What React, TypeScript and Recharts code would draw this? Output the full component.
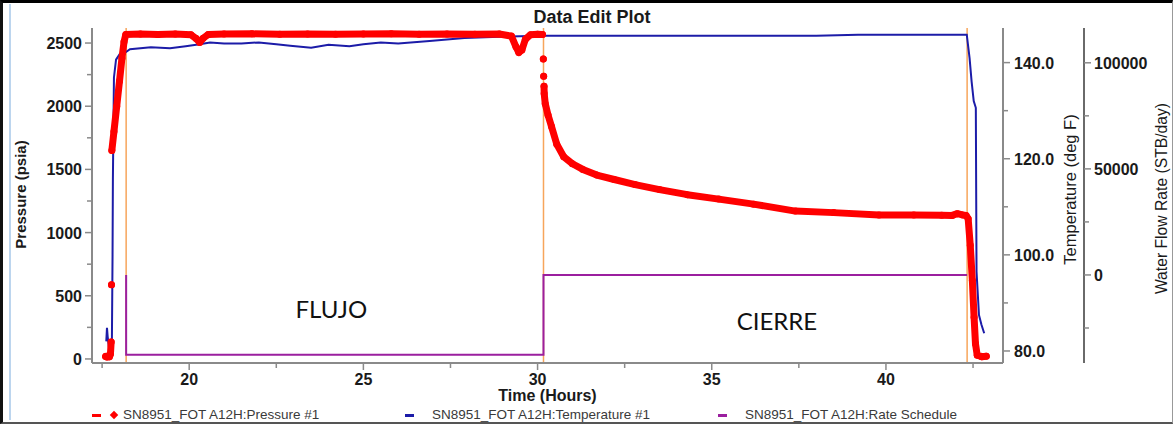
import {
  ComposedChart,
  Legend,
  Line,
  ReferenceDot,
  ReferenceLine,
  XAxis,
  YAxis,
} from "recharts";

// gauge #1 pressure, psia (null = gap between isolated samples)
const pressureHours = [
  17.6, 17.64, 17.68, 17.71, 17.74, 17.76, 17.765, 17.77, 17.775, 17.78, 17.84,
  17.92, 18.0, 18.07, 18.13, 18.18, 18.6, 19.1, 19.6, 20.05, 20.2, 20.3, 20.4,
  20.55, 21.0, 21.8, 22.6, 23.4, 24.2, 25.0, 25.8, 26.6, 27.4, 28.2, 28.9,
  29.25, 29.38, 29.46, 29.55, 29.65, 29.8, 30.0, 30.14, 30.155, 30.165, 30.17,
  30.175, 30.18, 30.185, 30.19, 30.22, 30.3, 30.4, 30.55, 30.75, 31.0, 31.3,
  31.7, 32.2, 32.8, 33.5, 34.3, 35.2, 36.2, 37.4, 38.5, 39.8, 40.8, 41.6, 41.9,
  42.05, 42.2, 42.3, 42.36, 42.42, 42.48, 42.53, 42.57, 42.62, 42.75, 42.88,
];
const pressurePsia = [
  20, 15, 25, 18, 40, 135, null, 587, null, 1650, 1800, 2000, 2200, 2380, 2510,
  2568, 2572, 2568, 2571, 2566, 2535, 2505, 2538, 2568, 2571, 2573, 2569, 2572,
  2570, 2571, 2573, 2569, 2572, 2570, 2571, 2555, 2470, 2425, 2445, 2530, 2566,
  2570, 2568, null, 2373, null, 2238, null, 2159, 2100, 2020, 1930, 1840, 1700,
  1600, 1545, 1500, 1455, 1420, 1380, 1340, 1300, 1265, 1225, 1170, 1158, 1140,
  1140, 1137, 1136, 1150, 1140, 1135, 1110, 900, 620, 330, 120, 30, 18, 22,
];

// gauge #1 temperature, deg F
const temperatureHours = [
  17.62, 17.64, 17.66, 17.7, 17.74, 17.78, 17.8, 17.81, 17.84, 17.9, 18.0,
  18.16, 18.3, 18.9, 19.45, 19.9, 20.3, 20.6, 21.0, 21.5, 22.0, 22.5, 22.9,
  23.5, 24.0, 24.6, 25.0, 25.5, 26.0, 26.9, 27.9, 28.9, 29.5, 30.1, 32, 35, 38,
  39.2, 42.32, 42.4, 42.46, 42.52, 42.58, 42.6, 42.67, 42.74, 42.82,
];
const temperatureDegF = [
  82, 84.8, 83, 80.5, 79.5, 81, 100, 116, 136.9, 140.6, 141.7, 142.1, 142.8,
  143.2, 143.0, 143.4, 143.8, 144.2, 144.0, 144.0, 144.2, 143.8, 143.5, 143.1,
  143.7, 143.4, 143.8, 144.2, 144.0, 144.5, 145.1, 145.4, 145.5, 145.6, 145.6,
  145.6, 145.6, 145.8, 145.8, 141, 136, 132, 130.6, 96.5, 87.5, 85.5, 83.7,
];

// rate schedule, STB/day
const rateHours = [18.19, 18.19, 30.17, 30.17, 42.33];
const rateStbDay = [0, -37600, -37600, 0, 0];

const eventHours = [18.19, 30.17, 42.33];

const timeTicks = [17.5, 20, 22.5, 25, 27.5, 30, 32.5, 35, 37.5, 40, 42.5];
const pressureTicks = [0, 250, 500, 750, 1000, 1250, 1500, 1750, 2000, 2250, 2500];
const temperatureTicks = [80, 90, 100, 110, 120, 130, 140];
const rateTicks = [-25000, 0, 25000, 50000, 75000, 100000];

const periodNames = ["FLUJO", "CIERRE"];
const periodHours = [24.08, 36.87];
const periodPsia = [390, 295];

const seriesNames = [
  "SN8951_FOT A12H:Pressure #1",
  "SN8951_FOT A12H:Temperature #1",
  "SN8951_FOT A12H:Rate Schedule",
];

const pressureData = pressureHours.map((t, i) => ({ t, p: pressurePsia[i] }));
const temperatureData = temperatureHours.map((t, i) => ({ t, temp: temperatureDegF[i] }));
const rateData = rateHours.map((t, i) => ({ t, rate: rateStbDay[i] }));

const FONT = "'Liberation Sans', Arial, sans-serif";
const RED = "#ff0000";
const BLUE = "#1c1ca8";
const PURPLE = "#9b1f9f";
const ORANGE = "#f7a55b";
const AXIS = "#8a8a8a";
const SERIES_COLORS = [RED, BLUE, PURPLE];
const LEGEND_X = [92, 405, 718];

const tickText = { fontFamily: FONT, fontSize: 16, fontWeight: 700, fill: "#1a1a1a" };

function TimeTick({ x, y, payload }: any) {
  const major = payload.value % 5 === 0;
  return (
    <g>
      <line x1={x} x2={x} y1={y} y2={y + (major ? 7 : 5)} stroke={AXIS} strokeWidth={1.5} />
      {major ? (
        <text x={x} y={y + 22} textAnchor="middle" {...tickText}>
          {payload.value}
        </text>
      ) : null}
    </g>
  );
}

function PressureTick({ x, y, payload }: any) {
  const major = payload.value % 500 === 0;
  return (
    <g>
      <line x1={x - (major ? 7 : 5)} x2={x} y1={y} y2={y} stroke={AXIS} strokeWidth={1.5} />
      {major ? (
        <text x={x - 10} y={y + 6} textAnchor="end" {...tickText}>
          {payload.value}
        </text>
      ) : null}
    </g>
  );
}

function TemperatureTick({ x, y, payload }: any) {
  const major = payload.value % 20 === 0;
  return (
    <g>
      <line x1={x} x2={x + (major ? 7 : 5)} y1={y} y2={y} stroke={AXIS} strokeWidth={1.5} />
      {major ? (
        <text x={x + 11} y={y + 6} textAnchor="start" {...tickText}>
          {payload.value.toFixed(1)}
        </text>
      ) : null}
    </g>
  );
}

function RateTick({ x, y, payload }: any) {
  const major = payload.value % 50000 === 0;
  return (
    <g>
      <line x1={x} x2={x + (major ? 7 : 5)} y1={y} y2={y} stroke={AXIS} strokeWidth={1.5} />
      {major ? (
        <text x={x + 10} y={y + 6} textAnchor="start" {...tickText}>
          {payload.value}
        </text>
      ) : null}
    </g>
  );
}

function VerticalTitle({ viewBox, value, at, shift = 0, weight = 700, size = 15 }: any) {
  const x = viewBox.x + at;
  const y = viewBox.y + viewBox.height / 2 + shift;
  return (
    <text
      x={x}
      y={y}
      transform={`rotate(-90 ${x} ${y})`}
      textAnchor="middle"
      dominantBaseline="central"
      fontFamily={FONT}
      fontSize={size}
      fontWeight={weight}
      fill="#1a1a1a"
    >
      {value}
    </text>
  );
}

function LegendRow() {
  return (
    <div style={{ position: "relative", height: 20, width: 1173, fontFamily: FONT }}>
      {seriesNames.map((name, i) => (
        <div
          key={name}
          style={{
            position: "absolute",
            left: LEGEND_X[i],
            top: 3,
            height: 16,
            lineHeight: "16px",
            display: "flex",
            alignItems: "center",
            fontSize: 13.5,
            color: "#3a3a3a",
            whiteSpace: "nowrap",
          }}
        >
          <span style={{ width: 9, height: 3, background: SERIES_COLORS[i], display: "inline-block" }} />
          {i === 0 ? (
            <span
              style={{
                width: 6,
                height: 6,
                background: RED,
                transform: "rotate(45deg)",
                marginLeft: 10,
                display: "inline-block",
              }}
            />
          ) : null}
          <span style={{ marginLeft: i === 0 ? 6 : 18 }}>{name}</span>
        </div>
      ))}
    </div>
  );
}

export default function App() {
  return (
    <div
      style={{
        position: "absolute",
        left: 0,
        top: 0,
        width: 1173,
        height: 424,
        background: "#fff",
        overflow: "hidden",
      }}
    >
      <ComposedChart
        width={1173}
        height={424}
        margin={{ top: 28, right: 0, bottom: 0, left: 10 }}
      >
        <XAxis
          dataKey="t"
          type="number"
          domain={[17.21, 43.36]}
          ticks={timeTicks}
          interval={0}
          allowDataOverflow
          tickSize={0}
          tickMargin={0}
          tickLine={false}
          tick={<TimeTick />}
          axisLine={{ stroke: AXIS, strokeWidth: 2 }}
          height={41}
          label={{
            value: "Time (Hours)",
            position: "insideBottom",
            offset: 3,
            fontFamily: FONT,
            fontSize: 16,
            fontWeight: 700,
            fill: "#1a1a1a",
          }}
        />
        <XAxis
          xAxisId="top"
          orientation="top"
          type="number"
          domain={[17.21, 43.36]}
          height={0}
          tick={false}
          tickLine={false}
          axisLine={{ stroke: AXIS, strokeWidth: 2 }}
        />
        <YAxis
          yAxisId="p"
          orientation="left"
          width={82}
          domain={[-32, 2619]}
          ticks={pressureTicks}
          interval={0}
          allowDataOverflow
          tickSize={0}
          tickMargin={0}
          tickLine={false}
          tick={<PressureTick />}
          axisLine={{ stroke: AXIS, strokeWidth: 2 }}
          label={<VerticalTitle value="Pressure (psia)" at={10} shift={-1} />}
        />
        <YAxis
          yAxisId="r2"
          orientation="right"
          width={89}
          domain={[-41500, 116400]}
          ticks={rateTicks}
          interval={0}
          allowDataOverflow
          tickSize={0}
          tickMargin={0}
          tickLine={false}
          tick={<RateTick />}
          axisLine={{ stroke: "#6a6a6a", strokeWidth: 2 }}
          label={
            <VerticalTitle value="Water Flow Rate (STB/day)" at={77} shift={3} weight={400} size={15.7} />
          }
        />
        <YAxis
          yAxisId="r1"
          orientation="right"
          width={81}
          domain={[77.5, 147.2]}
          ticks={temperatureTicks}
          interval={0}
          allowDataOverflow
          tickSize={0}
          tickMargin={0}
          tickLine={false}
          tick={<TemperatureTick />}
          axisLine={{ stroke: AXIS, strokeWidth: 2 }}
          label={
            <VerticalTitle value="Temperature (deg F)" at={67} shift={-6} weight={400} size={16.5} />
          }
        />
        {eventHours.map((h) => (
          <ReferenceLine key={h} x={h} yAxisId="p" stroke={ORANGE} strokeWidth={1.5} />
        ))}
        <Line
          yAxisId="r2"
          data={rateData}
          dataKey="rate"
          stroke={PURPLE}
          strokeWidth={2}
          dot={false}
          activeDot={false}
          isAnimationActive={false}
        />
        <Line
          yAxisId="r1"
          data={temperatureData}
          dataKey="temp"
          stroke={BLUE}
          strokeWidth={2}
          dot={false}
          activeDot={false}
          isAnimationActive={false}
        />
        <Line
          yAxisId="p"
          data={pressureData}
          dataKey="p"
          stroke={RED}
          strokeWidth={7}
          strokeLinejoin="round"
          strokeLinecap="round"
          connectNulls={false}
          dot={{ r: 3.5, fill: RED, stroke: "none" }}
          activeDot={false}
          isAnimationActive={false}
        />
        {periodNames.map((name, i) => (
          <ReferenceDot
            key={name}
            yAxisId="p"
            x={periodHours[i]}
            y={periodPsia[i]}
            r={0}
            fill="none"
            stroke="none"
            label={{
              value: name,
              position: "center",
              fill: "#111",
              fontSize: 24,
              fontFamily: "Lato, 'Open Sans', sans-serif",
            }}
          />
        ))}
        <Legend
          verticalAlign="bottom"
          align="left"
          wrapperStyle={{ left: 0, width: 1173 }}
          content={() => <LegendRow />}
        />
      </ComposedChart>
      <div
        style={{
          position: "absolute",
          left: 592,
          top: 8,
          transform: "translateX(-50%)",
          fontFamily: FONT,
          fontWeight: 700,
          fontSize: 18,
          lineHeight: "18px",
          color: "#1a1a1a",
          whiteSpace: "nowrap",
        }}
      >
        Data Edit Plot
      </div>
      <div
        style={{
          position: "absolute",
          inset: 0,
          borderTop: "3px solid #000",
          borderLeft: "3px solid #111",
          borderRight: "1px solid #999",
          borderBottom: "2px solid #555",
          pointerEvents: "none",
        }}
      />
      <div
        style={{
          position: "absolute",
          left: 9,
          top: 4,
          width: 2,
          height: 416,
          background: "#bcd5ee",
          pointerEvents: "none",
        }}
      />
    </div>
  );
}
